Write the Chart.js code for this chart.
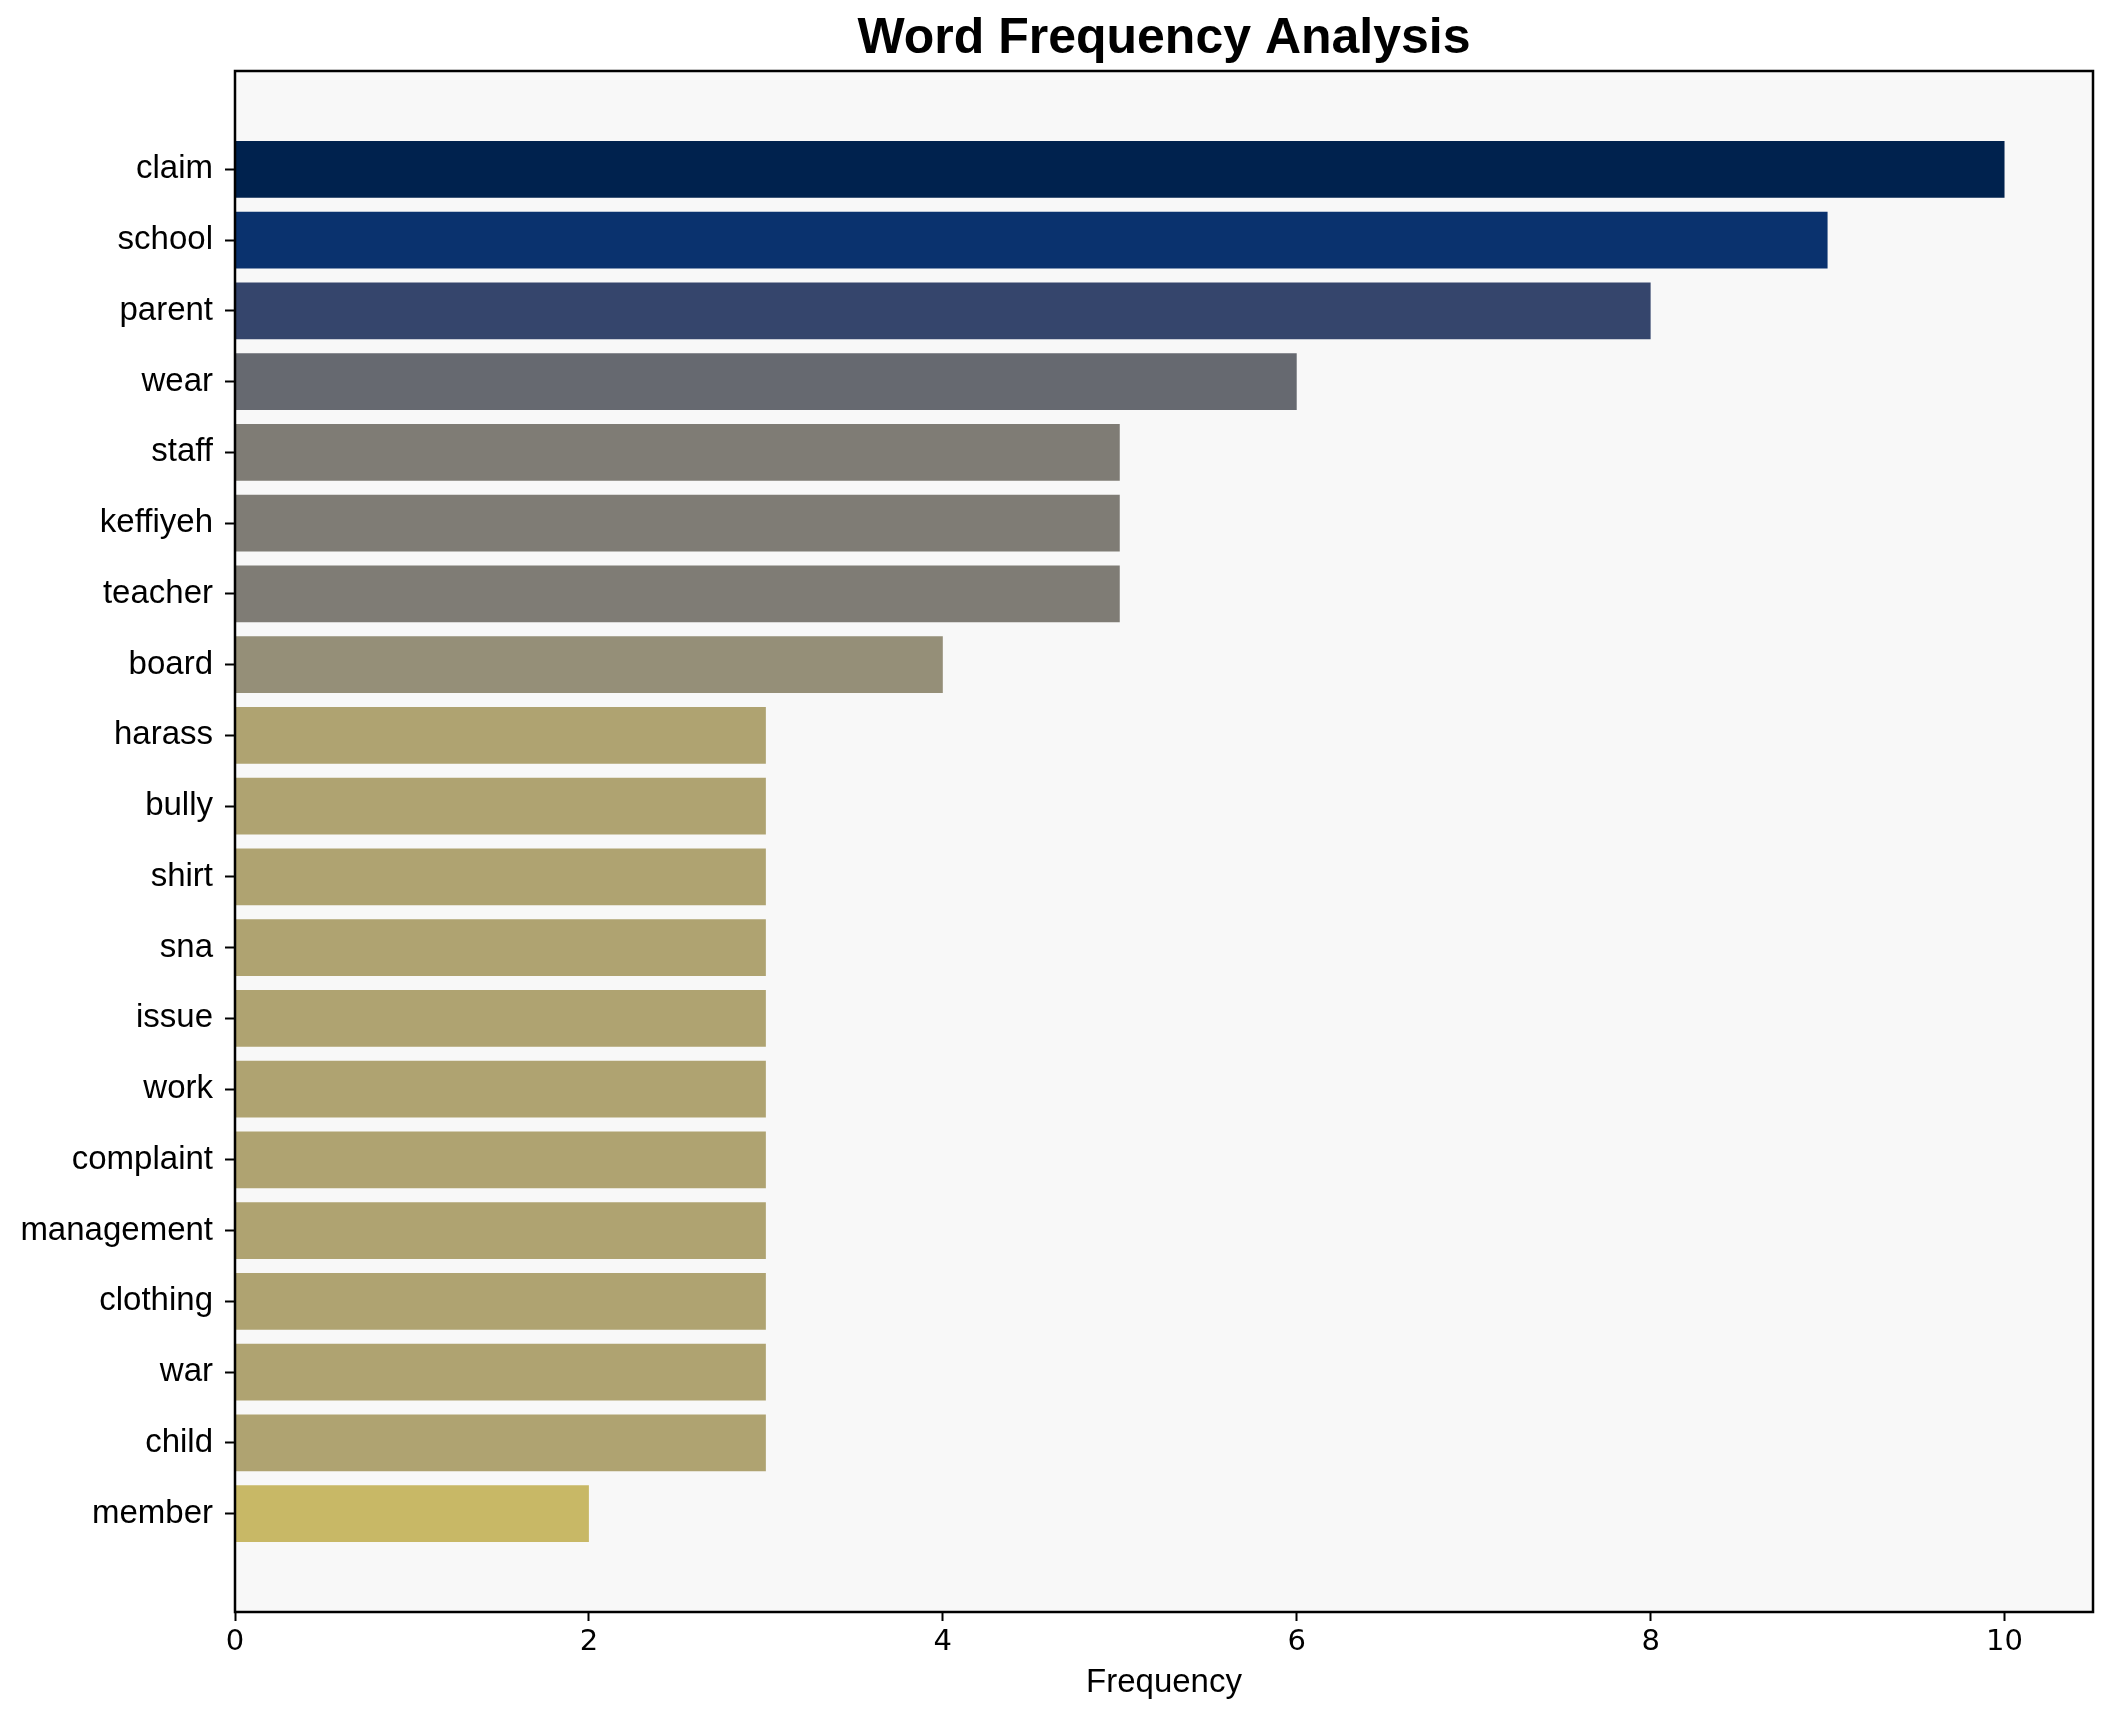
<!DOCTYPE html>
<html>
<head>
<meta charset="utf-8">
<title>Word Frequency Analysis</title>
<script src="https://cdn.jsdelivr.net/npm/chart.js@4.4.1/dist/chart.umd.min.js"></script>
<style>
  body { margin: 0; background: #ffffff; }
  #chart { display: block; }
</style>
</head>
<body>
<canvas id="chart" width="2114" height="1722"></canvas>
<script>
// words, top to bottom
var words = ['claim', 'school', 'parent', 'wear', 'staff', 'keffiyeh', 'teacher', 'board',
    'harass', 'bully', 'shirt', 'sna', 'issue', 'work', 'complaint', 'management',
    'clothing', 'war', 'child', 'member'];
var counts = [10, 9, 8, 6, 5, 5, 5, 4, 3, 3, 3, 3, 3, 3, 3, 3, 3, 3, 3, 2];
var xTicks = [0, 2, 4, 6, 8, 10];

// bar colours (cividis-like)
var barColors = ['#00224e', '#0a326e', '#35456c', '#666970', '#7f7c75', '#7f7c75', '#7f7c75',
    '#958f78', '#afa371', '#afa371', '#afa371', '#afa371', '#afa371', '#afa371', '#afa371',
    '#afa371', '#afa371', '#afa371', '#afa371', '#c8b866'];

Chart.defaults.font.family = "'Liberation Sans', Arial, sans-serif";
Chart.defaults.color = '#000000';

var points = [];
for (var i = 0; i < words.length; i++) {
    points.push({ x: counts[i], y: i });
}

// plot background and frame like the matplotlib axes
var framePlugin = {
    id: 'frame',
    beforeDraw: function(chart) {
        var a = chart.chartArea;
        var ctx = chart.ctx;
        ctx.save();
        ctx.fillStyle = '#f8f8f8';
        ctx.fillRect(a.left, a.top, a.right - a.left, a.bottom - a.top);
        ctx.restore();
    },
    afterDraw: function(chart) {
        var a = chart.chartArea;
        var ctx = chart.ctx;
        ctx.save();
        ctx.strokeStyle = '#000000';
        ctx.lineWidth = 2.5;
        ctx.strokeRect(a.left, a.top, a.right - a.left, a.bottom - a.top);
        ctx.restore();
    }
};

var chart = new Chart(document.getElementById('chart').getContext('2d'), {
    type: 'bar',
    data: {
        datasets: [{
            data: points,
            backgroundColor: barColors,
            borderWidth: 0,
            barPercentage: 0.8,
            categoryPercentage: 1.0
        }]
    },
    options: {
        indexAxis: 'y',
        responsive: false,
        devicePixelRatio: 1,
        animation: false,
        layout: { padding: { top: 0, left: 0, right: 21, bottom: 0 } },
        plugins: {
            legend: { display: false },
            tooltip: { enabled: false },
            title: {
                display: true,
                text: 'Word Frequency Analysis',
                fullSize: false,
                font: { size: 50, weight: 'bold' },
                color: '#000000',
                padding: { top: 9, bottom: 2 }
            }
        },
        scales: {
            x: {
                type: 'linear',
                position: 'bottom',
                min: 0,
                max: 10.5,
                afterBuildTicks: function(scale) {
                    scale.ticks = xTicks.map(function(v) { return { value: v }; });
                },
                afterFit: function(scale) { scale.height = 110; },
                ticks: {
                    font: { size: 29, family: "'DejaVu Sans', sans-serif" },
                    color: '#000000',
                    padding: 4,
                    maxRotation: 0
                },
                grid: {
                    drawOnChartArea: false,
                    drawTicks: true,
                    tickLength: 9,
                    tickWidth: 2,
                    tickColor: '#000000'
                },
                border: { display: false },
                title: {
                    display: true,
                    text: 'Frequency',
                    font: { size: 33 },
                    color: '#000000',
                    padding: { top: 0, bottom: 19 }
                }
            },
            y: {
                type: 'linear',
                reverse: true,
                offset: false,
                min: -1.39,
                max: 20.39,
                afterBuildTicks: function(scale) {
                    scale.ticks = words.map(function(w, i) { return { value: i }; });
                },
                afterFit: function(scale) { scale.width = 235; },
                ticks: {
                    font: { size: 33 },
                    color: '#000000',
                    padding: 12,
                    autoSkip: false,
                    callback: function(value) { return words[value]; }
                },
                grid: {
                    offset: false,
                    drawOnChartArea: false,
                    drawTicks: true,
                    tickLength: 10,
                    tickWidth: 2,
                    tickColor: '#000000'
                },
                border: { display: false }
            }
        }
    },
    plugins: [framePlugin]
});
</script>
</body>
</html>
